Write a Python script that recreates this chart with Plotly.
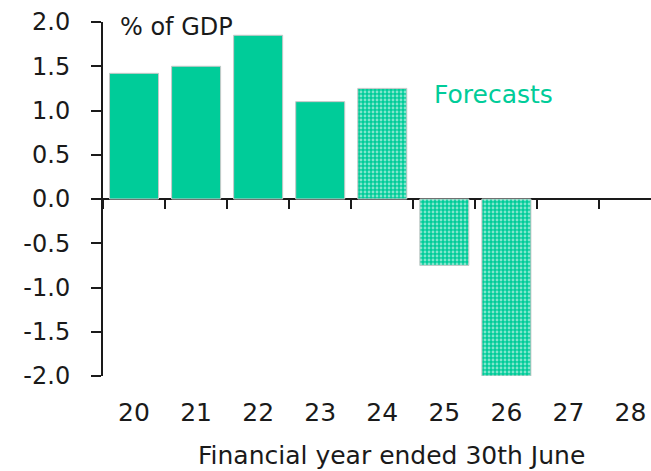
import plotly.graph_objects as go

years = ["20", "21", "22", "23", "24", "25", "26", "27", "28"]
actual = [1.42, 1.50, 1.85, 1.10, None, None, None, None, None]
forecast = [None, None, None, None, 1.25, -0.75, -2.0, None, None]
y_ticks = [2.0, 1.5, 1.0, 0.5, 0.0, -0.5, -1.0, -1.5, -2.0]
y_labels = ["2.0", "1.5", "1.0", "0.5", "0.0", "-0.5", "-1.0", "-1.5", "-2.0"]

TEAL = "#00CC99"
FONT = "DejaVu Sans"

fig = go.Figure()
fig.add_trace(go.Bar(
    x=years, y=actual, marker=dict(color=TEAL, line=dict(color="#c8c8c8", width=1)),
    width=0.79, showlegend=False, xaxis="x2"))
fig.add_trace(go.Bar(
    x=years, y=forecast,
    marker=dict(color=TEAL, line=dict(color="#c8c8c8", width=1),
                pattern=dict(shape=".", fgcolor="white", bgcolor=TEAL, size=4, solidity=0.4)),
    width=0.79, showlegend=False, xaxis="x2"))
# invisible trace for the label axis
fig.add_trace(go.Bar(x=years, y=[None]*len(years), showlegend=False, hoverinfo="skip"))

xr = [-0.5, 8.33]
fig.update_layout(
    width=651, height=471,
    margin=dict(l=103, r=0, t=22, b=95),
    paper_bgcolor="white", plot_bgcolor="white",
    font=dict(family=FONT, color="#1a1a1a", size=21),
    barmode="overlay",
    xaxis=dict(type="category", categoryarray=years, range=xr, showline=False,
               ticks="", showgrid=False, zeroline=False,
               tickfont=dict(size=25), ticklabelstandoff=19),
    xaxis2=dict(type="category", categoryarray=years, range=xr, overlaying="x",
                anchor="free", position=0.5, showline=False, showticklabels=False,
                ticks="outside", tickson="boundaries", ticklen=9, tickwidth=2,
                tickcolor="#1a1a1a", showgrid=False, zeroline=False, side="bottom"),
    yaxis=dict(range=[-2.0, 2.0], tickvals=y_ticks, ticktext=y_labels,
               showline=True, linecolor="#1a1a1a", linewidth=2,
               ticks="outside", ticklen=10, tickwidth=2, tickcolor="#1a1a1a",
               showgrid=False, zeroline=True, zerolinecolor="#1a1a1a", zerolinewidth=2,
               tickfont=dict(size=24), ticklabelstandoff=16),
    annotations=[
        dict(text="% of GDP", xref="paper", yref="paper", x=0.027, y=0.985,
             xanchor="left", yanchor="middle", showarrow=False, font=dict(size=24)),
        dict(text="Forecasts", xref="paper", yref="y", x=0.6, y=1.18,
             xanchor="left", yanchor="middle", showarrow=False, font=dict(size=25, color=TEAL)),
        dict(text="Financial year ended 30th June", xref="paper", yref="paper",
             x=0.527, y=-0.225, xanchor="center", yanchor="middle", showarrow=False,
             font=dict(size=25)),
    ],
)
fig.write_html("out.html", config={"displayModeBar": False},
               post_script="document.body.style.margin='0';")
